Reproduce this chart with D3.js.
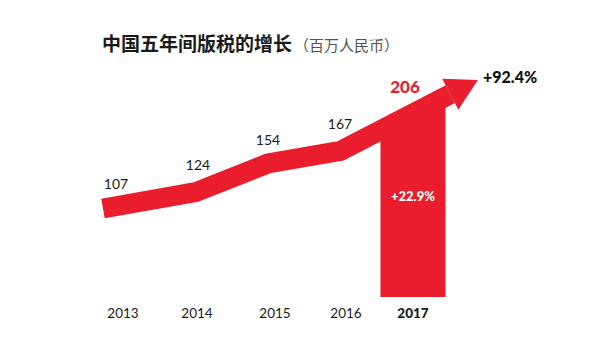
<!DOCTYPE html>
<html><head><meta charset="utf-8">
<script src="https://cdn.jsdelivr.net/npm/d3@7"></script>
<style>body{margin:0;background:#fff}svg{display:block}</style>
</head><body>
<script>
const years = ["2013","2014","2015","2016","2017"];
const values = [107,124,154,167,206];
const labels = ["107","124","154","167","206"];
const growthTotal = "+92.4%";
const growthLast = "+22.9%";
const title = "中国五年间版税的增长";
const unit = "（百万人民币）";

const W=600,H=340, RED="#ea1d2c";
const svg=d3.select("body").append("svg").attr("width",W).attr("height",H);
const x=d3.scalePoint().domain(years).range([123,413]);
const y=d3.scaleLinear().domain([107,206]).range([208.5,113.5]);

svg.append("text").attr("x",102).attr("y",51).attr("font-family","Noto Sans CJK SC").attr("font-weight",700)
  .attr("font-size",19).attr("fill","#1a1a1a").text(title)
  .append("tspan").attr("font-weight",400).attr("font-size",15).attr("fill","#555").attr("dx",2).text(unit);

const pts=years.map((yr,i)=>[x(yr),y(values[i])]);
const start=[103,y(values[0])];
const pa=pts[3],pb=pts[4];
const dx=pb[0]-pa[0],dy=pb[1]-pa[1],len=Math.hypot(dx,dy);
const ux=dx/len,uy=dy/len, nx=-uy, ny=ux;
const ext=73, headLen=31, headHalf=17.5, half=10;
const tip=[pb[0]+ux*ext,pb[1]+uy*ext];
const base=[tip[0]-ux*headLen,tip[1]-uy*headLen];

// bar for last year
const bw=65, bx0=x("2017")-bw/2, bx1=x("2017")+bw/2, bBottom=297;
const lineY=xx=>pb[1]+(xx-pb[0])*(dy/dx);
svg.append("path").attr("fill",RED)
  .attr("d",d3.line()([[bx0,bBottom],[bx0,lineY(bx0)],[bx1,lineY(bx1)],[bx1,bBottom]])+"Z");

// band
svg.append("path").attr("fill","none").attr("stroke",RED).attr("stroke-width",half*2)
  .attr("stroke-linejoin","miter").attr("stroke-linecap","butt")
  .attr("d",d3.line()([start,...pts.slice(1,4),base]));
// arrowhead
svg.append("path").attr("fill",RED).attr("d",d3.line()([
  [base[0]+nx*headHalf,base[1]+ny*headHalf],tip,[base[0]-nx*headHalf,base[1]-ny*headHalf]
])+"Z");

const F="Lato, 'Open Sans', sans-serif";
const labX=[116,198,268,340];
const offs=[-20,-22,-18,-22];
labels.slice(0,4).forEach((t,i)=>{
  svg.append("text").attr("x",labX[i]).attr("y",pts[i][1]+offs[i])
   .attr("text-anchor","middle").attr("font-family",F).attr("font-size",14).attr("fill","#1a1a1a").text(t);
});
svg.append("text").attr("x",405).attr("y",93).attr("text-anchor","middle").attr("font-family",F)
  .attr("font-weight",900).attr("font-size",17).attr("fill",RED).text(labels[4]);
svg.append("text").attr("x",483).attr("y",83).attr("font-family",F)
  .attr("font-weight",900).attr("font-size",16).attr("fill","#111").text(growthTotal);
svg.append("text").attr("x",x("2017")).attr("y",201).attr("text-anchor","middle").attr("font-family",F)
  .attr("font-weight",900).attr("font-size",13).attr("fill","#fff").text(growthLast);

const yearShift=[0,1.5,7,5.5,0];
years.forEach((yr,i)=>{
  svg.append("text").attr("x",x(yr)+yearShift[i]).attr("y",318).attr("text-anchor","middle")
   .attr("font-family",F).attr("font-size",13.5).attr("font-weight",i==4?900:400).attr("fill","#1a1a1a").text(yr);
});
</script>
</body></html>
